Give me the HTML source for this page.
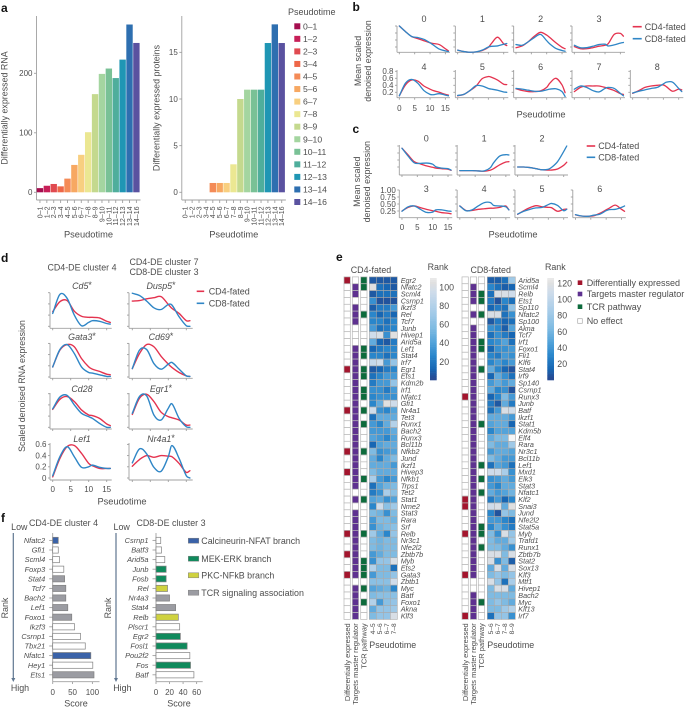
<!DOCTYPE html>
<html lang="en">
<head>
<meta charset="utf-8">
<title>Pseudotime differential expression figure</title>
<style>
html,body{margin:0;padding:0;background:#fff;width:686px;height:709px;overflow:hidden}
svg{display:block;font-family:"Liberation Sans",sans-serif;filter:blur(.3px)}
text{fill:#4d4d4d}
</style>
</head>
<body>
<svg id="fig" width="686" height="709" viewBox="0 0 686 709" xmlns="http://www.w3.org/2000/svg"></svg>
<script>
/* ---------- panel a data ---------- */
const pseudotimeBins = ['0–1','1–2','2–3','3–4','4–5','5–6','6–7','7–8','8–9','9–10','10–11','11–12','12–13','13–14','14–16'];
const binColors = ['#a50e4f','#c71f58','#e04a50','#ee6748','#f48b57','#f7a862','#f8cf80','#ebe792','#c4d98e','#a4d5a0','#79c196','#4fae9c','#1f96b4','#2e6fb0','#5a52a0'];
const rnaCounts = [7,11,14,10,23,46,63,101,165,199,208,192,223,282,251];
const proteinCounts = [0,0,0,0,1,1,1,3,10,11,11,11,16,18,16];
const rnaTicks = [0,100,200];
const proteinTicks = [0,5,10,15];

/* ---------- line panels: values sampled on a shared pseudotime grid ---------- */
const pseudotimeGrid = [0,2,4,6,8,10,11,13,15,16];
const bTitles = ['0','1','2','3','4','5','6','7','8'];
const bCd4 = [
 [.80,.64,.50,.44,.38,.32,.30,.27,.15,.09],
 [.11,.07,.05,.06,.10,.19,.30,.48,.29,.24],
 [.18,.23,.35,.51,.62,.54,.47,.32,.19,.15],
 [.21,.15,.15,.18,.22,.25,.29,.56,.59,.51],
 [.10,.41,.55,.52,.38,.29,.25,.20,.14,.12],
 [.10,.14,.25,.38,.59,.65,.63,.55,.43,.42],
 [.30,.25,.22,.22,.24,.34,.46,.60,.41,.19],
 [.22,.34,.38,.38,.38,.34,.31,.25,.16,.14],
 [.17,.25,.34,.38,.40,.41,.36,.23,.29,.27]
];
const bCd8 = [
 [.80,.64,.50,.47,.42,.32,.26,.14,.09,.07],
 [.11,.07,.05,.06,.11,.20,.22,.23,.28,.30],
 [.27,.25,.35,.47,.56,.38,.29,.16,.10,.08],
 [.25,.18,.18,.22,.27,.28,.23,.26,.31,.33],
 [.10,.46,.57,.46,.25,.14,.13,.16,.12,.10],
 [.11,.14,.25,.39,.38,.31,.29,.26,.21,.20],
 [.31,.29,.26,.23,.23,.27,.29,.30,.22,.08],
 [.29,.38,.34,.25,.21,.31,.34,.31,.17,.10],
 [.18,.23,.27,.31,.34,.44,.49,.49,.31,.22]
];
const bYTicks = [.2,.4,.6,.8];
const bYTickLabels = ['0.2','0.4','0.6','0.8'];
const cTitles = ['0','1','2','3','4','5','6'];
const cCd4 = [
 [.92,.68,.44,.36,.29,.24,.21,.19,.17,.13],
 [.12,.12,.12,.11,.10,.14,.19,.33,.43,.44],
 [.25,.25,.23,.19,.15,.14,.14,.18,.31,.42],
 [.25,.38,.43,.37,.31,.26,.24,.19,.17,.15],
 [.43,.27,.27,.31,.33,.35,.35,.38,.43,.29],
 [.13,.26,.37,.44,.40,.38,.37,.24,.31,.32],
 [.11,.07,.06,.08,.17,.29,.35,.46,.31,.24]
];
const cCd8 = [
 [.92,.64,.40,.38,.39,.35,.26,.21,.19,.14],
 [.12,.12,.12,.11,.11,.23,.40,.64,.69,.68],
 [.25,.25,.23,.19,.15,.17,.23,.44,.80,1.0],
 [.24,.40,.43,.31,.20,.21,.29,.29,.25,.24],
 [.43,.26,.29,.43,.55,.55,.45,.43,.40,.29],
 [.14,.24,.31,.36,.38,.48,.52,.45,.26,.31],
 [.12,.07,.06,.10,.14,.26,.30,.31,.38,.43]
];
const cYTicks = [.25,.5,.75,1];
const cYTickLabels = ['0.25','0.50','0.75','1.00'];
const dGenes = ['Cd5','Gata3','Cd28','Lef1','Dusp5','Cd69','Egr1','Nr4a1'];
const dStarred = [true,true,false,false,true,true,true,true];
const dCd4 = [
 [.26,.44,.46,.27,.18,.16,.16,.15,.09,.07],
 [.18,.48,.58,.54,.33,.18,.14,.10,.05,.04],
 [.32,.50,.55,.46,.31,.22,.21,.16,.06,.03],
 [.02,.35,.56,.58,.44,.26,.22,.17,.17,.17],
 [.45,.46,.49,.51,.53,.39,.32,.23,.10,.10],
 [.15,.42,.58,.54,.37,.23,.17,.08,.02,.01],
 [.23,.52,.59,.46,.27,.19,.17,.13,.04,.04],
 [.21,.33,.40,.37,.40,.39,.38,.26,.10,.13]
];
const dCd8 = [
 [.23,.57,.50,.20,.01,.07,.10,.09,.05,.04],
 [.18,.49,.58,.42,.18,.08,.07,.04,.01,.01],
 [.33,.54,.57,.40,.25,.19,.16,.07,.00,.00],
 [.04,.38,.56,.38,.19,.20,.23,.19,.17,.17],
 [.59,.55,.45,.33,.30,.39,.38,.17,.01,.00],
 [.15,.48,.49,.24,.14,.23,.26,.14,.02,.01],
 [.25,.55,.56,.22,.13,.34,.42,.16,.01,.00],
 [.27,.52,.43,.19,.12,.38,.58,.35,.04,.00]
];
const dYTicks = [0,.2,.4,.6];
const dYTickLabels = ['0','0.2','0.4','0.6'];
const timeTicks = [0,5,10,15];

/* ---------- panel e data ---------- */
const leftGenes = ['Egr2','Nfatc2','Scml4','Csrnp1','Ikzf3','Rel','Tcf7','Junb','Hivep1','Arid5a','Lef1','Stat4','Irf7','Egr1','Ets1','Kdm2b','Irf1','Nfatc1','Gfi1','Nr4a1','Tet3','Runx1','Bach2','Runx3','Bcl11b','Nfkb2','Jund','Ikzf1','Hivep3','Nfkb1','Trps1','Tet2','Stat1','Nme2','Stat3','Rara','Srf','Relb','Nr3c1','Nfe2l2','Zbtb7b','Myb','Ets2','Gata3','Zbtb1','Myc','Batf','Foxo1','Akna','Klf3'];
const leftRanks = [[10,10,10,10],[110,20,15,10],[10,20,20,20],[35,8,8,8],[12,25,25,40],[30,15,25,15],[30,30,20,30],[40,20,25,30],[100,105,35,110],[50,15,10,25],[15,25,30,30],[30,30,20,30],[95,100,40,70],[10,15,25,30],[20,30,40,40],[25,40,40,70],[35,35,25,40],[30,35,35,35],[30,50,110,100],[100,35,30,45],[20,50,50,50],[40,30,50,85],[40,40,40,50],[45,40,30,45],[15,45,50,50],[60,35,40,45],[50,30,50,60],[50,50,50,40],[60,50,50,50],[80,40,30,40],[20,45,55,60],[25,35,80,65],[45,50,35,45],[30,100,65,75],[60,55,35,60],[40,60,60,55],[35,55,60,65],[75,50,30,70],[60,55,60,60],[60,55,60,60],[40,50,60,60],[35,70,70,105],[85,60,60,20],[40,60,60,70],[65,65,65,100],[45,50,55,30],[60,65,65,65],[85,40,65,70],[50,70,70,75],[60,70,70,105]];
const leftDE = ['Egr2','Egr1','Nr4a1','Nfkb2','Hivep3','Relb','Zbtb7b','Gata3'];
const leftNotMaster = ['Egr2','Csrnp1','Junb','Hivep1','Arid5a','Tet2','Nme2','Zbtb1'];
const leftTCR = ['Egr2','Nfatc2','Rel','Lef1','Stat4','Egr1','Ets1','Irf1','Nfatc1','Nr4a1','Runx1','Nfkb2','Nfkb1','Stat1','Relb','Myb','Ets2','Gata3','Myc','Foxo1'];
const leftBins = ['4–5','5–6','6–7','7–8'];
const rightGenes = ['Arid5a','Scml4','Relb','Ets1','Sp110','Nfatc2','Sp100','Akna','Tcf7','Irf1','Foxo1','Fli1','Klf6','Stat4','Irf9','Sp140','Csrnp1','Runx3','Junb','Batf','Ikzf1','Stat1','Kdm5b','Elf4','Rara','Nr3c1','Bcl11b','Lef1','Mxd1','Elk3','Stat3','Nfatc1','Klf2','Snai3','Jund','Nfe2l2','Stat5a','Myb','Trafd1','Runx1','Zbtb7b','Stat2','Sox13','Klf3','Mtf1','Hivep1','Bach2','Myc','Klf13','Irf7'];
const rightRanks = [[12,12,20,75],[30,20,12,15],[20,105,105,100],[25,8,30,20],[15,25,20,70],[105,105,20,35],[10,25,15,20],[35,30,12,45],[20,35,25,15],[30,35,45,20],[15,35,35,40],[30,25,40,35],[30,40,30,40],[50,30,15,8],[15,50,35,20],[40,50,40,50],[50,30,35,8],[15,30,60,40],[25,10,50,25],[20,40,105,100],[50,50,50,40],[45,50,50,15],[30,45,45,45],[50,60,60,120],[60,50,50,75],[40,50,50,45],[60,50,40,40],[20,45,40,20],[100,100,80,35],[35,40,50,40],[40,30,50,50],[50,40,45,55],[25,40,15,30],[100,105,50,110],[30,8,70,60],[40,40,30,20],[30,50,35,25],[60,35,105,70],[60,50,50,75],[60,60,50,35],[105,105,60,105],[105,35,60,12],[50,105,50,105],[60,70,60,70],[105,70,20,80],[60,105,105,50],[60,60,60,60],[60,70,60,50],[60,60,75,85],[20,70,70,35]];
const rightDE = ['Runx3','Klf2','Snai3','Myb','Klf3','Irf7'];
const rightNotMaster = ['Arid5a','Sp110','Sp100','Mtf1','Hivep1'];
const rightTCR = ['Relb','Ets1','Nfatc2','Irf1','Foxo1','Stat4','Stat1','Lef1','Elk3','Nfatc1','Stat5a','Myb','Runx1','Myc'];
const rightBins = ['5–6','6–7','7–8','8–9'];
const leftBarTicks = [20,40,60,80,100];
const rightBarTicks = [20,40,60,80,100,120];

/* ---------- panel f data ---------- */
const fLeftGenes = ['Nfatc2','Gfi1','Scml4','Foxp3','Stat4','Tcf7','Bach2','Lef1','Foxo1','Ikzf3','Csrnp1','Tbx21','Nfatc1','Hey1','Ets1'];
const fLeftScores = [14,14,17,28,30,33,33,38,48,55,70,82,96,101,104];
const fLeftGroups = ['n','o','o','o','t','t','t','t','t','o','o','o','n','o','t'];
const fRightGenes = ['Csrnp1','Batf3','Arid5a','Junb','Fosb','Rel','Nr4a3','Stat4','Relb','Plscr1','Egr2','Fosl1','Pou2f2','Fos','Batf'];
const fRightScores = [7,8,13,15,15,17,20,29,33,35,36,46,50,51,56];
const fRightGroups = ['o','o','o','m','m','p','t','t','p','o','m','m','o','m','o'];
const fLeftTicks = [0,50,100];
const fRightTicks = [0,20,40,60];

/* ---------- helpers ---------- */
const NS = 'http://www.w3.org/2000/svg';
const fig = document.getElementById('fig');
const AX = '#a0a0a0', RED = '#e4334f', BLUE = '#2f86c6';
function scale(d0, d1, r0, r1){ return v => r0 + (v - d0) * (r1 - r0) / (d1 - d0); }
function group(parent, name){
  const el = document.createElementNS(NS, 'g');
  
  
  parent.appendChild(el);
  return el;
}
function txt(parent, name, x, y, s, o){
  o = o || {};
  const el = document.createElementNS(NS, 'text');
  
  
  el.setAttribute('x', x);
  el.setAttribute('y', y);
  el.setAttribute('dy', '.35em');
  el.setAttribute('font-size', o.size || 8);
  el.setAttribute('text-anchor', o.anchor || 'start');
  if (o.italic) el.setAttribute('font-style', 'italic');
  if (o.bold) { el.setAttribute('font-weight', 'bold'); el.style.fill = '#111'; }
  if (o.rotate) el.setAttribute('transform', 'rotate(' + o.rotate + ' ' + x + ' ' + y + ')');
  el.textContent = s;
  parent.appendChild(el);
  return el;
}
function line(parent, name, x1, y1, x2, y2, color, w){
  const el = document.createElementNS(NS, 'line');
  
  
  el.setAttribute('x1', x1); el.setAttribute('y1', y1);
  el.setAttribute('x2', x2); el.setAttribute('y2', y2);
  el.setAttribute('stroke', color || AX);
  el.setAttribute('stroke-width', w || .9);
  parent.appendChild(el);
  return el;
}
function rect(parent, name, x, y, w, h, fill, stroke, sw){
  const el = document.createElementNS(NS, 'rect');
  
  
  el.setAttribute('x', x); el.setAttribute('y', y);
  el.setAttribute('width', w); el.setAttribute('height', h);
  el.setAttribute('fill', fill);
  if (stroke) { el.setAttribute('stroke', stroke); el.setAttribute('stroke-width', sw || .7); }
  parent.appendChild(el);
  return el;
}
function curve(parent, name, xs, ys, color, w){
  const px = xs.slice(), py = ys.slice(), n = px.length, m = [];
  for (let i = 0; i < n; i++) {
    const a = Math.max(0, i - 1), b = Math.min(n - 1, i + 1);
    m.push((py[b] - py[a]) / (px[b] - px[a]));
  }
  let d = 'M' + px[0].toFixed(2) + ' ' + py[0].toFixed(2);
  for (let i = 0; i < n - 1; i++) {
    const dx = (px[i + 1] - px[i]) / 3;
    d += 'C' + (px[i] + dx).toFixed(2) + ' ' + (py[i] + m[i] * dx).toFixed(2) + ' ' +
         (px[i + 1] - dx).toFixed(2) + ' ' + (py[i + 1] - m[i + 1] * dx).toFixed(2) + ' ' +
         px[i + 1].toFixed(2) + ' ' + py[i + 1].toFixed(2);
  }
  const el = document.createElementNS(NS, 'path');
  
  
  el.setAttribute('d', d);
  el.setAttribute('fill', 'none');
  el.setAttribute('stroke', color);
  el.setAttribute('stroke-width', w || 1.3);
  el.setAttribute('stroke-linecap', 'round');
  parent.appendChild(el);
  return el;
}
function fateLegend(parent, x, y1, y2, len, gap){
  const g = group(parent, 'fate-legend');
  line(g, 'legend-line-cd4', x, y1, x + len, y1, RED, 1.6);
  txt(g, 'legend-label-cd4', x + len + gap, y1, 'CD4-fated', {size: 9});
  line(g, 'legend-line-cd8', x, y2, x + len, y2, BLUE, 1.6);
  txt(g, 'legend-label-cd8', x + len + gap, y2, 'CD8-fated', {size: 9});
}

/* ---------- panel letters ---------- */
const letterLayer = group(fig, 'panel-letters');
txt(letterLayer, 'panel-letter-a', 1, 8, 'a', {size: 12, bold: true});
txt(letterLayer, 'panel-letter-b', 352.5, 7, 'b', {size: 12, bold: true});
txt(letterLayer, 'panel-letter-c', 352.5, 129, 'c', {size: 12, bold: true});
txt(letterLayer, 'panel-letter-d', 1, 258, 'd', {size: 12, bold: true});
txt(letterLayer, 'panel-letter-e', 336, 257, 'e', {size: 12, bold: true});
txt(letterLayer, 'panel-letter-f', 1, 518, 'f', {size: 12, bold: true});

/* ---------- panel a ---------- */
function barPanel(name, values, ticks, left, yBase, perUnit, title, titleX){
  const g = group(fig, name);
  const step = 6.89, right = left + step * 15 + .7;
  const y = scale(0, 1, yBase, yBase - perUnit);
  line(g, 'y-axis', left, 16, left, 200);
  line(g, 'x-axis', left, 200, right, 200);
  ticks.forEach(t => {
    line(g, 'y-tick', left - 2.5, y(t), left, y(t));
    txt(g, 'y-tick-label', left - 4, y(t), String(t), {size: 8, anchor: 'end'});
  });
  pseudotimeBins.forEach((b, i) => {
    const cx = left + step * (i + .5), v = values[i];
    if (v > 0) rect(g, 'bar-' + b, cx - step / 2 + .25, y(v), step - .5, y(0) - y(v), binColors[i]);
    line(g, 'x-tick', cx, 200, cx, 203);
    txt(g, 'x-tick-label', cx, 206.5, b, {size: 7, anchor: 'end', rotate: -90});
  });
  txt(g, 'y-axis-title', titleX, 108, title, {size: 8.9, anchor: 'middle', rotate: -90});
  txt(g, 'x-axis-title', left + 52, 234, 'Pseudotime', {size: 9.3, anchor: 'middle'});
}
barPanel('panel-a-rna', rnaCounts, rnaTicks, 36.5, 192.3, .595, 'Differentially expressed RNA', 4.5);
barPanel('panel-a-protein', proteinCounts, proteinTicks, 181.8, 192.3, 9.33, 'Differentially expressed proteins', 156.5);
const binLegend = group(fig, 'pseudotime-legend');
txt(binLegend, 'legend-title', 288, 12, 'Pseudotime', {size: 9});
pseudotimeBins.forEach((b, i) => {
  const cy = 26.3 + i * 12.55;
  rect(binLegend, 'legend-swatch-' + b, 294.3, cy - 3, 6, 6, binColors[i]);
  txt(binLegend, 'legend-label-' + b, 303, cy, b, {size: 8.6});
});

/* ---------- panels b, c ---------- */
function smallMultiple(g, title, cd4, cd8, o){
  const x = scale(0, 1, o.x0, o.x0 + o.pxPerT);
  const y = scale(o.refV, o.refV + 1, o.refY, o.refY - o.pxPerV);
  line(g, 'y-axis', o.left, o.top, o.left, o.base);
  line(g, 'x-axis', o.left, o.base, o.left + 53, o.base);
  timeTicks.forEach((t, i) => {
    line(g, 'x-tick', x(t), o.base, x(t), o.base + 2);
    if (o.labelX) txt(g, 'x-tick-label', x(t), o.labelX, String(t), {size: 8, anchor: 'middle'});
  });
  o.yTicks.forEach((t, i) => {
    line(g, 'y-tick', o.left - 2, y(t), o.left, y(t));
    if (o.yLabels) txt(g, 'y-tick-label', o.left - 3.5, y(t), o.yLabels[i], {size: 8, anchor: 'end'});
  });
  txt(g, 'panel-title', o.titleX, o.titleY, title, {size: 9, anchor: 'middle'});
  const xs = pseudotimeGrid.map(x);
  curve(g, 'line-cd4-fated', xs, cd4.map(y), RED);
  curve(g, 'line-cd8-fated', xs, cd8.map(y), BLUE);
}
const panelB = group(fig, 'panel-b');
bTitles.forEach((title, i) => {
  const row = i < 4 ? 0 : 1, col = i < 4 ? i : i - 4;
  const left = 397 + col * 58.33;
  const g = group(panelB, 'cluster-' + title);
  smallMultiple(g, title, bCd4[i], bCd8[i], {
    left: left, x0: left + 2.33, pxPerT: 3.07, refV: .2, refY: row ? 92.3 : 47, pxPerV: 35,
    top: row ? 70 : 26, base: row ? 97.7 : 52.3, yTicks: bYTicks,
    yLabels: (row && col === 0) ? bYTickLabels : null, labelX: (row && col === 0) ? 108 : 0,
    titleX: left + 27, titleY: row ? 67 : 18.7
  });
});
txt(panelB, 'y-axis-title-line-1', 358, 61, 'Mean scaled', {size: 8.9, anchor: 'middle', rotate: -90});
txt(panelB, 'y-axis-title-line-2', 368, 61, 'denoised expression', {size: 8.9, anchor: 'middle', rotate: -90});
txt(panelB, 'x-axis-title', 541, 114, 'Pseudotime', {size: 9.3, anchor: 'middle'});
fateLegend(panelB, 632.7, 26.7, 38.7, 9, 3);

const panelC = group(fig, 'panel-c');
cTitles.forEach((title, i) => {
  const row = i < 3 ? 0 : 1, col = i < 3 ? i : i - 3;
  const left = 399.3 + col * 57.83;
  const g = group(panelC, 'cluster-' + title);
  smallMultiple(g, title, cCd4[i], cCd8[i], {
    left: left, x0: left + 2.67, pxPerT: 3.07, refV: .25, refY: row ? 211 : 167, pxPerV: 28,
    top: row ? 190 : 145, base: row ? 217.7 : 175, yTicks: cYTicks,
    yLabels: (row && col === 0) ? cYTickLabels : null, labelX: (row && col === 0) ? 227.3 : 0,
    titleX: left + 27, titleY: row ? 189 : 138.3
  });
});
txt(panelC, 'y-axis-title-line-1', 357, 181.7, 'Mean scaled', {size: 8.9, anchor: 'middle', rotate: -90});
txt(panelC, 'y-axis-title-line-2', 367, 181.7, 'denoised expression', {size: 8.9, anchor: 'middle', rotate: -90});
txt(panelC, 'x-axis-title', 513, 234, 'Pseudotime', {size: 9.3, anchor: 'middle'});
fateLegend(panelC, 586.7, 146, 157.3, 8.5, 3);

/* ---------- panel d ---------- */
const panelD = group(fig, 'panel-d');
txt(panelD, 'column-title-left', 82, 267.3, 'CD4-DE cluster 4', {size: 8.9, anchor: 'middle'});
txt(panelD, 'column-title-right-1', 164, 262, 'CD4-DE cluster 7', {size: 8.9, anchor: 'middle'});
txt(panelD, 'column-title-right-2', 164, 271.7, 'CD8-DE cluster 3', {size: 8.9, anchor: 'middle'});
const dZeroY = [326.3, 377, 427.3, 478];
const dBase = [328.3, 378.3, 429, 480];
const dTop = [292.7, 343.3, 393, 443];
const dTitleY = [285.7, 337, 389, 439];
dGenes.forEach((gene, i) => {
  const col = i < 4 ? 0 : 1, row = i % 4;
  const left = col ? 129 : 50, right = col ? 192.7 : 111.7, x0 = col ? 132.3 : 52.7;
  const g = group(panelD, 'gene-' + gene);
  const x = scale(0, 1, x0, x0 + 3.6), y = scale(0, 1, dZeroY[row], dZeroY[row] - 56);
  line(g, 'y-axis', left, dTop[row], left, dBase[row]);
  line(g, 'x-axis', left, dBase[row], right, dBase[row]);
  timeTicks.forEach(t => {
    line(g, 'x-tick', x(t), dBase[row], x(t), dBase[row] + 2);
    if (row === 3 && col === 0) txt(g, 'x-tick-label', x(t), 489, String(t), {size: 8, anchor: 'middle'});
  });
  dYTicks.forEach((t, k) => {
    line(g, 'y-tick', left - 2, y(t), left, y(t));
    if (row === 3 && col === 0) txt(g, 'y-tick-label', left - 3.5, y(t), dYTickLabels[k], {size: 8, anchor: 'end'});
  });
  const title = txt(g, 'gene-title', col ? 161 : 82, dTitleY[row], gene, {size: 8.9, anchor: 'middle', italic: true});
  if (dStarred[i]) {
    const star = document.createElementNS(NS, 'tspan');
    
    
    star.setAttribute('dy', '-.1em');
    star.setAttribute('font-style', 'normal');
    star.textContent = '*';
    title.appendChild(star);
  }
  const xs = pseudotimeGrid.map(x);
  curve(g, 'line-cd4-fated', xs, dCd4[i].map(y), RED, 1.4);
  curve(g, 'line-cd8-fated', xs, dCd8[i].map(y), BLUE, 1.4);
});
txt(panelD, 'y-axis-title', 22, 386, 'Scaled denoised RNA expression', {size: 8.9, anchor: 'middle', rotate: -90});
txt(panelD, 'x-axis-title', 122, 501, 'Pseudotime', {size: 9.3, anchor: 'middle'});
fateLegend(panelD, 196.7, 291.3, 303.3, 7.5, 4.5);

/* ---------- panel e ---------- */
const RANK_STOPS = [[5,[39,75,147]],[15,[23,102,179]],[30,[42,134,203]],[45,[83,163,218]],[60,[127,187,226]],[80,[169,205,233]],[100,[207,220,234]],[110,[224,224,224]],[120,[246,246,246]]];
function rankColor(v){
  for (let i = 0; i < RANK_STOPS.length - 1; i++) {
    const a = RANK_STOPS[i], b = RANK_STOPS[i + 1];
    if (v <= b[0]) {
      const f = Math.max(0, (v - a[0]) / (b[0] - a[0]));
      return 'rgb(' + a[1].map((c, k) => Math.round(c + (b[1][k] - c) * f)).join(',') + ')';
    }
  }
  return 'rgb(246,246,246)';
}
function heatmap(name, genes, ranks, de, notMaster, tcr, bins, o){
  const g = group(fig, name);
  const y0 = 276.9, step = 6.85;
  txt(g, 'heatmap-title', o.titleX, 270, name.indexOf('cd4') >= 0 ? 'CD4-fated' : 'CD8-fated', {size: 8.9, anchor: 'middle'});
  genes.forEach((gene, r) => {
    const y = y0 + r * step;
    rect(g, 'de-cell-' + gene, o.annot[0], y, 6.3, step, de.includes(gene) ? '#a3152d' : '#fff', '#b8b8b8');
    rect(g, 'master-cell-' + gene, o.annot[1], y, 6.3, step, notMaster.includes(gene) ? '#fff' : '#5e3190', '#b8b8b8');
    rect(g, 'tcr-cell-' + gene, o.annot[2], y, 6.3, step, tcr.includes(gene) ? '#0d6b3c' : '#fff', '#b8b8b8');
    ranks[r].forEach((v, c) => {
      rect(g, 'rank-cell-' + gene + '-' + bins[c], o.heat + c * 7, y, 7, step, rankColor(v), '#aaa', .6);
    });
    txt(g, 'gene-label-' + gene, o.labelX, y + step / 2, gene, {size: 7.2, italic: true});
  });
  const colTitles = ['Differentially expressed', 'Targets master regulator', 'TCR pathway'];
  colTitles.forEach((t, i) => {
    txt(g, 'column-label-' + i, o.annot[i] + 3.2, 623.3, t, {size: 7.5, anchor: 'end', rotate: -90});
  });
  bins.forEach((b, c) => {
    txt(g, 'bin-label-' + b, o.heat + c * 7 + 3.5, 623.3, b, {size: 6.6, anchor: 'end', rotate: -90});
  });
  txt(g, 'x-axis-title', o.heat, 644.7, 'Pseudotime', {size: 8.9});
}
heatmap('heatmap-cd4-fated', leftGenes, leftRanks, leftDE, leftNotMaster, leftTCR, leftBins,
  {annot: [344, 352.3, 360.7], heat: 369.3, labelX: 400.7, titleX: 371});
heatmap('heatmap-cd8-fated', rightGenes, rightRanks, rightDE, rightNotMaster, rightTCR, rightBins,
  {annot: [462, 470.3, 478.3], heat: 487.3, labelX: 518.3, titleX: 490.7});

function colorBar(name, x, maxV, ticks, tickY, textX){
  const g = group(fig, name);
  txt(g, 'colorbar-title', x + 8, 267, 'Rank', {size: 8.9, anchor: 'middle'});
  const y = scale(maxV, 4, 278, 380);
  for (let v = 4; v < maxV; v += 2) {
    rect(g, 'colorbar-step', x, y(v + 2), 6.7, y(v) - y(v + 2) + .3, rankColor(v * 116 / maxV));
  }
  ticks.forEach(t => {
    txt(g, 'colorbar-label', textX, tickY(t), String(t), {size: 8.8});
  });
}
colorBar('colorbar-cd4', 430, 114, leftBarTicks, scale(20, 100, 361.7, 287.3), 439.3);
colorBar('colorbar-cd8', 547.3, 132, rightBarTicks, scale(20, 120, 364, 283.3), 557.3);

const eLegend = group(fig, 'effect-legend');
rect(eLegend, 'legend-swatch-differentially-expressed', 577.7, 280.4, 4.6, 4.6, '#a3152d');
txt(eLegend, 'legend-label-differentially-expressed', 586.7, 282.7, 'Differentially expressed', {size: 9});
rect(eLegend, 'legend-swatch-targets-master-regulator', 577.7, 291.7, 4.6, 4.6, '#5e3190');
txt(eLegend, 'legend-label-targets-master-regulator', 586.7, 294, 'Targets master regulator', {size: 9});
rect(eLegend, 'legend-swatch-tcr-pathway', 577.7, 304.4, 4.6, 4.6, '#0d6b3c');
txt(eLegend, 'legend-label-tcr-pathway', 586.7, 306.7, 'TCR pathway', {size: 9});
rect(eLegend, 'legend-swatch-no-effect', 577.7, 318.7, 4.6, 4.6, '#fff', '#aaa');
txt(eLegend, 'legend-label-no-effect', 586.7, 321, 'No effect', {size: 9});

/* ---------- panel f ---------- */
const GROUP_FILL = {n: '#3a62a8', m: '#0f8a5c', p: '#cfd23f', t: '#9b9ca2', o: '#ffffff'};
function rankPanel(name, title, genes, scores, groups, ticks, o){
  const g = group(fig, name);
  const x = scale(0, 1, o.x0, o.x0 + o.pxPerUnit);
  line(g, 'y-axis', o.x0, 533, o.x0, 681.7);
  line(g, 'x-axis', o.x0, 681.7, o.axisEnd, 681.7);
  genes.forEach((gene, i) => {
    const cy = 540.4 + i * 9.6;
    line(g, 'y-tick', o.x0 - 3.5, cy, o.x0, cy);
    rect(g, 'bar-' + gene, o.x0, cy - 3.1, x(scores[i]) - o.x0, 6.2, GROUP_FILL[groups[i]], '#808080', .7);
    txt(g, 'gene-label-' + gene, o.x0 - 7.5, cy, gene, {size: 7.4, italic: true, anchor: 'end'});
  });
  ticks.forEach(t => {
    line(g, 'x-tick', x(t), 681.7, x(t), 684);
    txt(g, 'x-tick-label', x(t), 692, String(t), {size: 8, anchor: 'middle'});
  });
  txt(g, 'panel-title', o.titleX, 523, title, {size: 8.9, anchor: 'middle'});
  txt(g, 'rank-low-label', o.lowX, 527, 'Low', {size: 8.9, anchor: 'middle'});
  txt(g, 'rank-high-label', o.lowX + .7, 688, 'High', {size: 8.9, anchor: 'middle'});
  line(g, 'rank-arrow-shaft', o.arrowX, 533, o.arrowX, 679, '#5f7690', 1.2);
  const head = document.createElementNS(NS, 'polygon');
  
  
  head.setAttribute('points', (o.arrowX - 2) + ',678 ' + (o.arrowX + 2) + ',678 ' + o.arrowX + ',682');
  head.setAttribute('fill', '#5f7690');
  g.appendChild(head);
  txt(g, 'rank-axis-title', o.rankX, 608, 'Rank', {size: 8.9, anchor: 'middle', rotate: -90});
  txt(g, 'x-axis-title', o.scoreX, 703.5, 'Score', {size: 9, anchor: 'middle'});
}
rankPanel('panel-f-cd4', 'CD4-DE cluster 4', fLeftGenes, fLeftScores, fLeftGroups, fLeftTicks,
  {x0: 52.7, pxPerUnit: .397, axisEnd: 99.5, titleX: 63.5, lowX: 19.3, arrowX: 13.3, rankX: 5, scoreX: 76});
rankPanel('panel-f-cd8', 'CD8-DE cluster 3', fRightGenes, fRightScores, fRightGroups, fRightTicks,
  {x0: 156, pxPerUnit: .677, axisEnd: 202.7, titleX: 171, lowX: 121.7, arrowX: 116, rankX: 107.7, scoreX: 179});
const pathwayLegend = group(fig, 'pathway-legend');
rect(pathwayLegend, 'legend-swatch-calcineurin-nfat', 188.3, 538.2, 10.5, 5, GROUP_FILL.n, '#808080', .5);
txt(pathwayLegend, 'legend-label-calcineurin-nfat', 201.3, 540.7, 'Calcineurin-NFAT branch', {size: 8.9});
rect(pathwayLegend, 'legend-swatch-mek-erk', 188.3, 556.2, 10.5, 5, GROUP_FILL.m, '#808080', .5);
txt(pathwayLegend, 'legend-label-mek-erk', 201.3, 558.7, 'MEK-ERK branch', {size: 8.9});
rect(pathwayLegend, 'legend-swatch-pkc-nfkb', 188.3, 572.8, 10.5, 5, GROUP_FILL.p, '#808080', .5);
txt(pathwayLegend, 'legend-label-pkc-nfkb', 201.3, 575.3, 'PKC-NFkB branch', {size: 8.9});
rect(pathwayLegend, 'legend-swatch-tcr-signaling', 188.3, 590.2, 10.5, 5, GROUP_FILL.t, '#808080', .5);
txt(pathwayLegend, 'legend-label-tcr-signaling', 201.3, 592.7, 'TCR signaling association', {size: 8.9});
</script>
</body>
</html>
